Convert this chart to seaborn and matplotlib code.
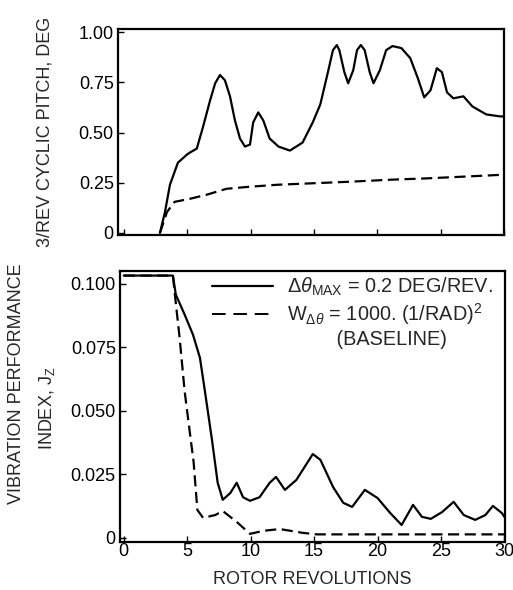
import numpy as np
import pandas as pd
import matplotlib
matplotlib.use("Agg")
import matplotlib.pyplot as plt
from matplotlib.lines import Line2D
import seaborn as sns

# ---------------- data ----------------
pitch_solid_rev = [2.84, 3.24, 3.63, 4.26, 4.97, 5.2, 5.75, 6.25, 6.8, 7.2, 7.58, 7.97,
                   8.37, 8.76, 9.16, 9.55, 9.95, 10.2, 10.6, 11.0, 11.5, 12.2, 13.1,
                   14.1, 14.9, 15.5, 16.1, 16.5, 16.8, 17.0, 17.4, 17.7, 18.1, 18.4,
                   18.7, 19.0, 19.4, 19.7, 20.2, 20.7, 21.2, 21.9, 22.6, 23.2, 23.7,
                   24.2, 24.7, 25.1, 25.5, 26.0, 26.8, 27.5, 28.6, 29.7, 30.0]
pitch_solid_val = [0.0, 0.105, 0.24, 0.35, 0.39, 0.40, 0.42, 0.53, 0.66, 0.745, 0.786, 0.76,
                   0.68, 0.56, 0.47, 0.43, 0.44, 0.55, 0.60, 0.56, 0.47, 0.43, 0.41,
                   0.45, 0.55, 0.64, 0.80, 0.91, 0.935, 0.91, 0.80, 0.745, 0.81, 0.91,
                   0.935, 0.91, 0.80, 0.745, 0.81, 0.91, 0.93, 0.92, 0.87, 0.77, 0.675,
                   0.71, 0.82, 0.80, 0.70, 0.67, 0.68, 0.63, 0.59, 0.58, 0.58]

pitch_dash_rev = [2.84, 3.4, 4.0, 5.2, 6.5, 8.1, 9.9, 12.1, 17.8, 21.0, 24.0, 30.0]
pitch_dash_val = [0.0, 0.105, 0.155, 0.17, 0.19, 0.22, 0.23, 0.24, 0.255, 0.265, 0.272, 0.29]

jz_solid_rev = [0.0, 3.87, 4.1, 4.8, 5.45, 6.0, 6.4, 6.95, 7.4, 7.8, 8.4, 8.9, 9.4,
                9.95, 10.7, 11.5, 12.0, 12.7, 13.6, 14.9, 15.5, 16.5, 17.3, 18.0, 19.0,
                20.0, 21.0, 21.9, 22.8, 23.5, 24.2, 25.1, 26.0, 26.8, 27.7, 28.5, 29.1,
                29.8, 30.0]
jz_solid_val = [0.1032, 0.1032, 0.0957, 0.0878, 0.080, 0.0709, 0.0575, 0.0386, 0.0217, 0.015,
                0.0177, 0.0217, 0.016, 0.0146, 0.016, 0.0217, 0.024, 0.0189, 0.0228, 0.0330,
                0.0307, 0.020, 0.0138, 0.0122, 0.0189, 0.0157, 0.0098, 0.0051, 0.013, 0.0083,
                0.0075, 0.0102, 0.0142, 0.009, 0.0071, 0.009, 0.0126, 0.0098, 0.0083]

jz_dash_rev = [0.0, 3.87, 4.0, 4.4, 4.8, 5.2, 5.5, 5.8, 6.25, 7.2, 7.8, 8.9, 9.95, 11.0,
               12.3, 14.1, 15.2, 20.0, 30.0]
jz_dash_val = [0.1032, 0.1032, 0.0969, 0.0787, 0.0575, 0.0417, 0.0300, 0.011, 0.0079, 0.009,
               0.0106, 0.0063, 0.0016, 0.0028, 0.0035, 0.0020, 0.0014, 0.0014, 0.0014]

case_labels = [r"$\Delta\theta_{\mathrm{MAX}}$ = 0.2 DEG/REV.",
               r"W$_{\Delta\theta}$ = 1000. (1/RAD)$^{2}$"]
baseline_note = "(BASELINE)"

xticks = [0, 5, 10, 15, 20, 25, 30]
top_yticks = [0, 0.25, 0.5, 0.75, 1.0]
top_yticklabels = ["0", "0.25", "0.50", "0.75", "1.00"]
bot_yticks = [0, 0.025, 0.05, 0.075, 0.1]
bot_yticklabels = ["0", "0.025", "0.050", "0.075", "0.100"]

# ---------------- style ----------------
sns.set_theme(style="white")
plt.rcParams["font.family"] = ["Liberation Sans", "DejaVu Sans"]
plt.rcParams["mathtext.fontset"] = "custom"
plt.rcParams["mathtext.rm"] = "Liberation Sans"
plt.rcParams["mathtext.it"] = "Liberation Sans:italic"
plt.rcParams["mathtext.bf"] = "Liberation Sans:bold"
FS = 13

top_df = pd.concat([
    pd.DataFrame({"rev": pitch_solid_rev, "val": pitch_solid_val, "case": case_labels[0]}),
    pd.DataFrame({"rev": pitch_dash_rev, "val": pitch_dash_val, "case": case_labels[1]}),
])
bot_df = pd.concat([
    pd.DataFrame({"rev": jz_solid_rev, "val": jz_solid_val, "case": case_labels[0]}),
    pd.DataFrame({"rev": jz_dash_rev, "val": jz_dash_val, "case": case_labels[1]}),
])

dash_map = {case_labels[0]: "", case_labels[1]: (5, 2.5)}
pal = {case_labels[0]: "black", case_labels[1]: "black"}

fig = plt.figure(figsize=(5.13, 5.90), dpi=100)
ax1 = fig.add_axes([118 / 513, 1 - 235 / 590, 386 / 513, 206 / 590])
ax2 = fig.add_axes([120 / 513, 1 - 542 / 590, 385 / 513, 271 / 590])

for ax, df in [(ax1, top_df), (ax2, bot_df)]:
    sns.lineplot(data=df, x="rev", y="val", hue="case", style="case", dashes=dash_map,
                 palette=pal, estimator=None, sort=False, linewidth=1.6, ax=ax,
                 legend=False)
    for line in ax.get_lines():
        line.set_solid_joinstyle("round")
        line.set_dash_joinstyle("round")
    for s in ax.spines.values():
        s.set_visible(True)
        s.set_color("black")
        s.set_linewidth(1.6)
    ax.tick_params(direction="in", length=4, width=1.0, colors="black",
                   labelsize=FS, left=True, bottom=True)
    ax.set_xlabel("")
    ax.set_ylabel("")
    ax.set_xticks(xticks)

# top panel
ax1.set_xlim(-0.47, 30)
ax1.set_ylim(-0.01, 1.015)
ax1.set_yticks(top_yticks)
ax1.set_yticklabels(top_yticklabels)
ax1.tick_params(axis="x", labelbottom=False)
ax1.tick_params(axis="y", pad=3)
ax1.set_ylabel("3/REV CYCLIC PITCH, DEG", fontsize=FS, labelpad=18)

# bottom panel
ax2.set_xlim(-0.3, 30.05)
ax2.set_ylim(-0.0016, 0.105)
ax2.set_yticks(bot_yticks)
ax2.set_yticklabels(bot_yticklabels)
ax2.tick_params(axis="x", pad=1)
ax2.tick_params(axis="y", pad=3)
ax2.set_xlabel("ROTOR REVOLUTIONS", fontsize=FS, labelpad=8)
fig.text(17 / 513, 1 - 384 / 590, "VIBRATION PERFORMANCE", rotation=90,
         ha="center", va="center", fontsize=FS)
fig.text(47 / 513, 1 - 408 / 590, r"INDEX, J$_{\mathrm{Z}}$", rotation=90,
         ha="center", va="center", fontsize=FS)

handles = [Line2D([], [], color="black", lw=1.6),
           Line2D([], [], color="black", lw=1.4, dashes=(7, 4)),
           Line2D([], [], color="none")]
labels = [case_labels[0], case_labels[1], "         " + baseline_note]
leg = ax2.legend(handles, labels, loc="upper right", bbox_to_anchor=(1.0, 1.025),
                 frameon=False, fontsize=14.3, handlelength=3.1, handletextpad=0.7,
                 labelspacing=0.15, borderaxespad=0.2)

fig.savefig("out.png", dpi=100)
